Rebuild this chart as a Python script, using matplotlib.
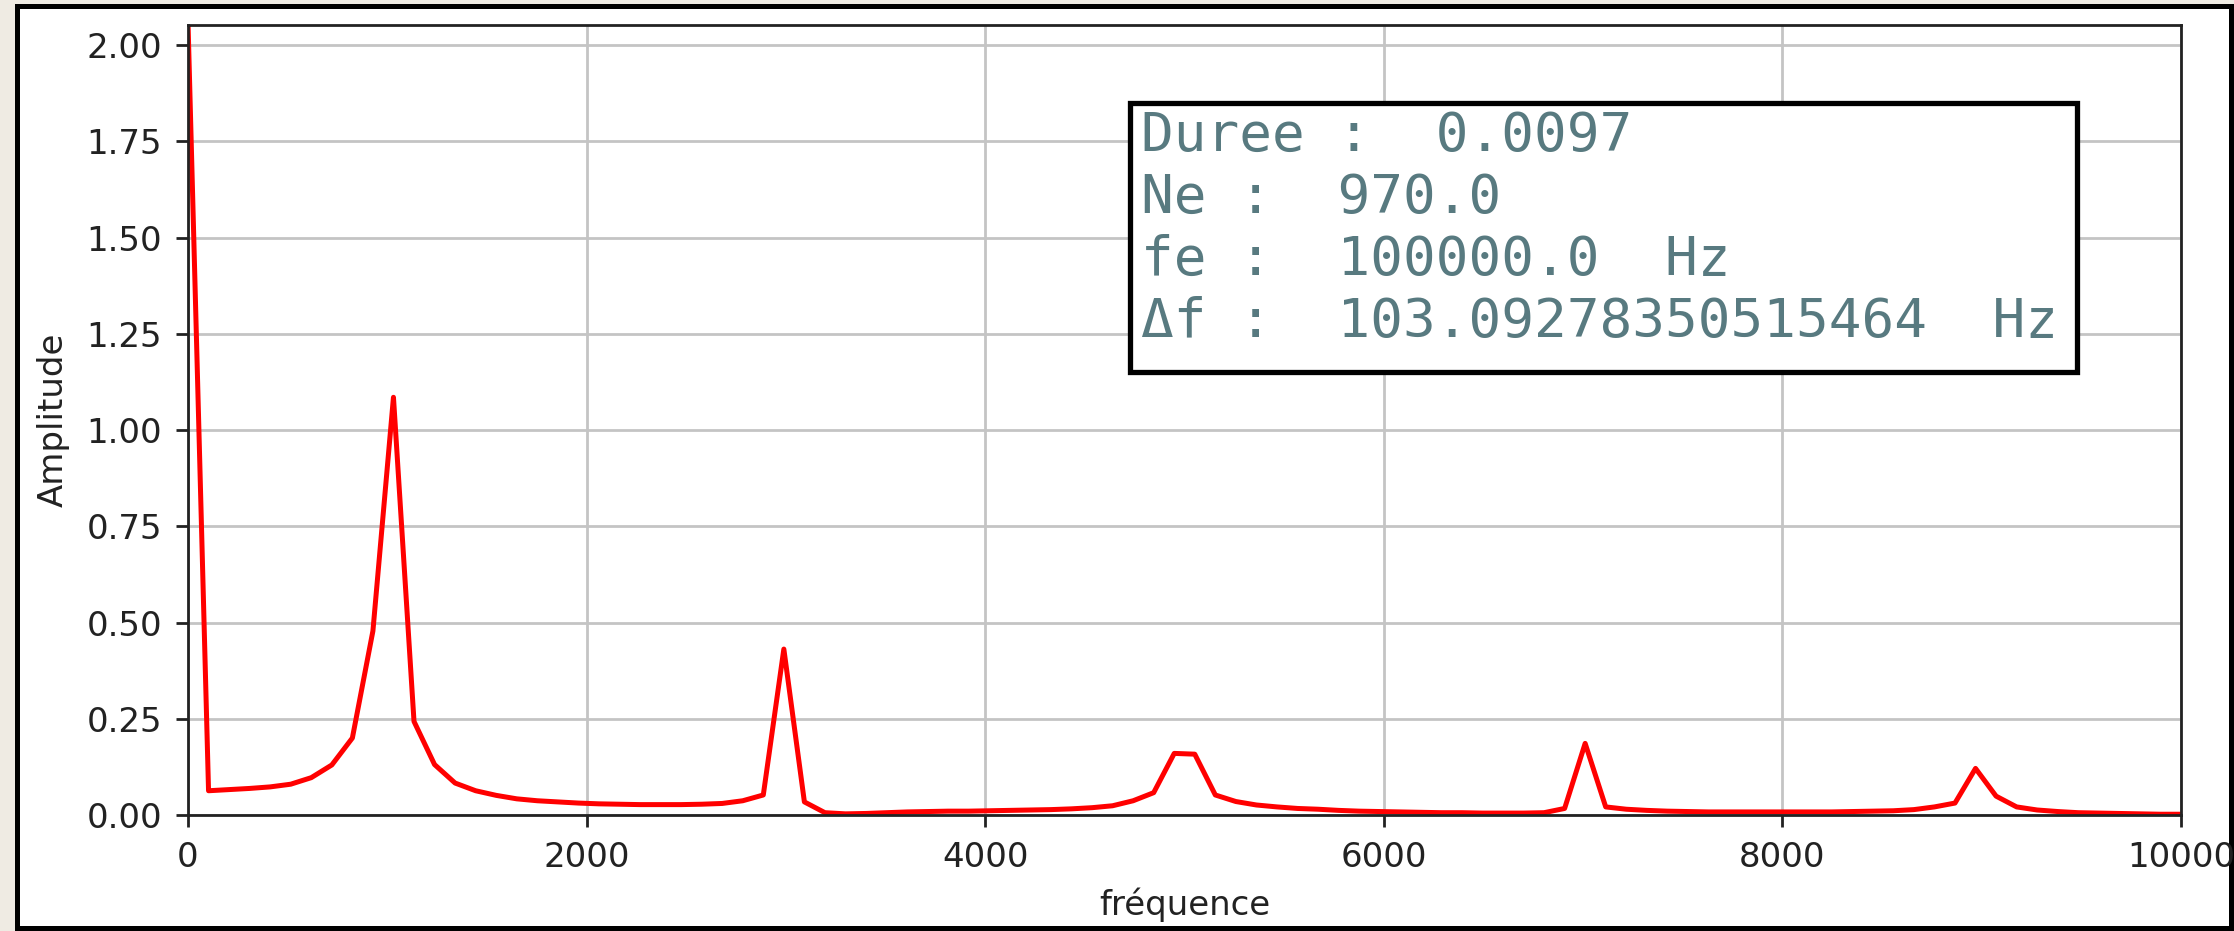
import numpy as np
import matplotlib
matplotlib.use("Agg")
import matplotlib.pyplot as plt
from matplotlib.patches import Rectangle

# ---- data ----
delta_f = 103.09278350515464
bins = np.arange(98)
frequences = bins * delta_f
amplitude = [
    2.06, 0.063, 0.066, 0.069, 0.073, 0.080, 0.097, 0.130, 0.200, 0.478,
    1.085, 0.243, 0.131, 0.083, 0.063, 0.051, 0.042, 0.037, 0.034, 0.031,
    0.029, 0.028, 0.027, 0.027, 0.027, 0.028, 0.030, 0.037, 0.052, 0.431,
    0.034, 0.006, 0.003, 0.004, 0.006, 0.008, 0.009, 0.010, 0.010, 0.011,
    0.012, 0.013, 0.014, 0.016, 0.019, 0.024, 0.037, 0.058, 0.160, 0.158,
    0.052, 0.035, 0.026, 0.021, 0.017, 0.015, 0.012, 0.010, 0.009, 0.008,
    0.007, 0.006, 0.006, 0.005, 0.005, 0.005, 0.006, 0.017, 0.186, 0.021,
    0.015, 0.012, 0.010, 0.009, 0.008, 0.008, 0.008, 0.008, 0.008, 0.008,
    0.008, 0.009, 0.010, 0.011, 0.014, 0.021, 0.031, 0.121, 0.049, 0.021,
    0.013, 0.009, 0.006, 0.005, 0.004, 0.003, 0.002, 0.002,
]
info_lines = [
    "Duree :  0.0097",
    "Ne :  970.0",
    "fe :  100000.0  Hz",
    "Δf :  103.09278350515464  Hz",
]
xlabel = "fréquence"
ylabel = "Amplitude"

# ---- figure ----
W, H = 2234, 931
fig = plt.figure(figsize=(W / 100, H / 100), dpi=100, facecolor="#efebe3")

def fx(px):
    return px / W

def fy(py):
    return 1 - py / H

# outer white frame with black border
frame = Rectangle((fx(17), fy(928)), fx(2231) - fx(17), fy(5.5) - fy(928),
                  transform=fig.transFigure, facecolor="white",
                  edgecolor="black", linewidth=3.6, zorder=-1)
fig.patches.append(frame)

ax = fig.add_axes([fx(188), fy(815), fx(2181) - fx(188), fy(25) - fy(815)])
ax.plot(frequences, amplitude, color="red", linewidth=3.6)
ax.set_xlim(0, 10000)
ax.set_ylim(0, 2.052)
ax.set_yticks(np.arange(0, 2.01, 0.25))
ax.grid(True, color="#c4c4c4", linewidth=2.0)
ax.set_axisbelow(True)
for s in ax.spines.values():
    s.set_linewidth(2.0)
    s.set_color("#222222")
ax.tick_params(labelsize=24.5, length=8.5, width=2.0, pad=10, colors="#222222")
ax.set_xlabel(xlabel, fontsize=24.5, labelpad=10, color="#222222")
ax.set_ylabel(ylabel, fontsize=24.5, labelpad=12, color="#222222")

# info box
box = Rectangle((fx(1130), fy(372)), fx(2077) - fx(1130), fy(103) - fy(372),
                transform=fig.transFigure, facecolor="white",
                edgecolor="black", linewidth=3.8, zorder=5)
fig.patches.append(box)
fig.text(fx(1141), fy(110), "\n".join(info_lines), family="DejaVu Sans Mono",
         fontsize=39.2, color="#587a80", va="top", ha="left",
         linespacing=1.24, zorder=6)

fig.savefig("out.png", dpi=100, facecolor=fig.get_facecolor())
